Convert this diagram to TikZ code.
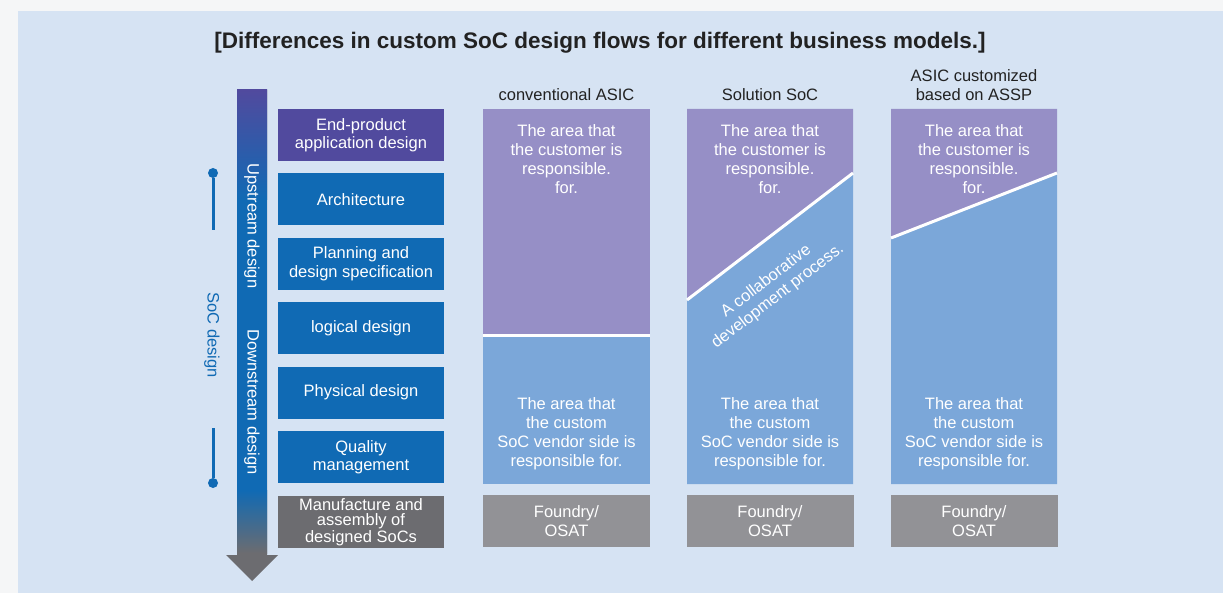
\documentclass[tikz,border=0pt]{standalone}
\usepackage{fontspec}
\setmainfont{Liberation Sans}
\usetikzlibrary{positioning}

\definecolor{bgwhite}{RGB}{245,246,247}
\definecolor{bgblue}{RGB}{214,227,243}
\definecolor{endpurple}{RGB}{81,74,158}
\definecolor{stepblue}{RGB}{16,106,180}
\definecolor{mfggray}{RGB}{108,108,112}
\definecolor{custpurple}{RGB}{150,143,198}
\definecolor{vendblue}{RGB}{123,167,217}
\definecolor{fndgray}{RGB}{146,146,150}
\definecolor{textdark}{RGB}{34,34,34}

\tikzset{
  stepbox/.style={rectangle, fill=stepblue, text=white, minimum width=166pt, minimum height=52pt, inner sep=0pt, align=center, font=\fontsize{16.5}{18.5}\selectfont},
  fndbox/.style={rectangle, fill=fndgray, text=white, minimum width=167pt, minimum height=52pt, inner sep=0pt, align=center, font=\fontsize{16.5}{18.5}\selectfont},
  areatext/.style={text=white, align=center, inner sep=0pt, font=\fontsize{16.5}{19}\selectfont},
  headtext/.style={text=textdark, align=center, inner sep=0pt, font=\fontsize{16.5}{19}\selectfont},
  arrowtext/.style={text=white, rotate=-90, inner sep=0pt, font=\fontsize{16.5}{18}\selectfont},
  dot/.style={circle, fill=stepblue, minimum size=10pt, inner sep=0pt, outer sep=0pt},
  bracketline/.style={stepblue, line width=3pt},
  splitline/.style={white, line width=3pt}
}

\begin{document}
\begin{tikzpicture}[x=1pt, y=-1pt]
  \useasboundingbox (0,0) rectangle (1223,593);
  \fill[bgwhite] (0,0) rectangle (1223,593);
  \fill[bgblue] (18,11) rectangle (1223,593);

  \node[text=textdark, inner sep=0pt, font=\bfseries\fontsize{22.5}{26}\selectfont] (title) at (600,43) {[Differences in custom SoC design flows for different business models.]};

  % big arrow on the left
  \fill[mfggray] (237,90) -- (267,90) -- (267,555) -- (278,555) -- (252,581) -- (226,555) -- (237,555) -- cycle;
  \shade[top color=endpurple, bottom color=stepblue] (237,90) rectangle (267,200);
  \fill[stepblue] (237,199) rectangle (267,491);
  \shade[top color=stepblue, bottom color=mfggray] (237,490) rectangle (267,553);
  \node[arrowtext] (up) at (252,226) {Upstream design};
  \node[arrowtext] (down) at (252,402) {Downstream design};

  % SoC design bracket
  \node[text=stepblue, rotate=-90, inner sep=0pt, font=\fontsize{16.5}{18}\selectfont] (soc) at (212,335) {SoC design};
  \node[dot] (dtop) at (213,173) {};
  \coordinate (dtopend) at (213,230);
  \node[dot] (dbot) at (213,483) {};
  \coordinate (dbotend) at (213,428);
  \draw[bracketline] (dtop) -- (dtopend);
  \draw[bracketline] (dbotend) -- (dbot);

  % design steps
  \node[stepbox, fill=endpurple] (s1) at (361,135) {End-product\\application design};
  \node[stepbox, below=12pt of s1] (s2) {Architecture};
  \node[stepbox, below=12pt of s2] (s3) {Planning and\\design specification};
  \node[stepbox, below=12pt of s3] (s4) {logical design};
  \node[stepbox, below=12pt of s4] (s5) {Physical design};
  \node[stepbox, below=12pt of s5] (s6) {Quality\\management};
  \node[stepbox, fill=mfggray, below=13pt of s6, font=\fontsize{16.5}{15}\selectfont] (s7) {Manufacture and\\assembly of\\designed SoCs};

  % column headers
  \node[headtext] (h1) at (566.5,95) {conventional ASIC};
  \node[headtext] (h2) at (770,95) {Solution SoC};
  \node[headtext] (h3) at (974,85) {ASIC customized\\based on ASSP};

  % conventional ASIC
  \fill[custpurple] (483,109) rectangle (650,336);
  \fill[vendblue] (483,336) rectangle (650,484);
  \draw[splitline] (483,336) -- (650,336);
  \node[areatext] (c1top) at (566.5,159.5) {The area that\\the customer is\\responsible.\\for.};
  \node[areatext] (c1bot) at (566.5,433.5) {The area that\\the custom\\SoC vendor side is\\responsible for.};
  \node[fndbox] (f1) at (566.5,521) {Foundry/\\OSAT};

  % Solution SoC
  \fill[custpurple] (687,109) -- (853,109) -- (853,173) -- (687,300) -- cycle;
  \fill[vendblue] (687,300) -- (853,173) -- (853,484) -- (687,484) -- cycle;
  \draw[splitline] (687,300) -- (853,173);
  \node[areatext] (c2top) at (770,159.5) {The area that\\the customer is\\responsible.\\for.};
  \node[areatext, rotate=37.4] (collab) at (772,289) {A collaborative\\development process.};
  \node[areatext] (c2bot) at (770,433.5) {The area that\\the custom\\SoC vendor side is\\responsible for.};
  \node[fndbox] (f2) at (770,521) {Foundry/\\OSAT};

  % ASIC customized based on ASSP
  \fill[custpurple] (891,109) -- (1057,109) -- (1057,173) -- (891,238) -- cycle;
  \fill[vendblue] (891,238) -- (1057,173) -- (1057,484) -- (891,484) -- cycle;
  \draw[splitline] (891,238) -- (1057,173);
  \node[areatext] (c3top) at (974,159.5) {The area that\\the customer is\\responsible.\\for.};
  \node[areatext] (c3bot) at (974,433.5) {The area that\\the custom\\SoC vendor side is\\responsible for.};
  \node[fndbox] (f3) at (974,521) {Foundry/\\OSAT};
\end{tikzpicture}
\end{document}
